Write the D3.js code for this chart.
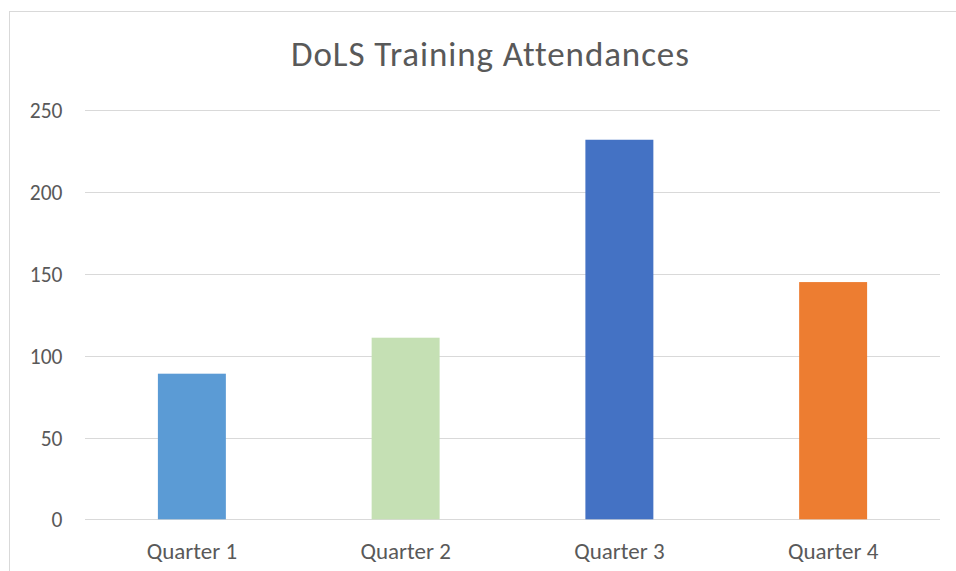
<!DOCTYPE html>
<html><head><meta charset="utf-8">
<script src="https://cdn.jsdelivr.net/npm/d3@7"></script>
<style>body{margin:0;background:#fff}svg{display:block}</style>
</head><body>
<script>
const categories = ["Quarter 1", "Quarter 2", "Quarter 3", "Quarter 4"];
const values = [89, 111, 232, 145];
const colors = ["#5B9BD5", "#C5E0B4", "#4472C4", "#ED7D31"];
const yTicks = [0, 50, 100, 150, 200, 250];
const title = "DoLS Training Attendances";

const W = 956, H = 571;
const font = "Carlito, Calibri, Lato, 'Open Sans', sans-serif";
const svg = d3.select("body").append("svg").attr("width", W).attr("height", H);
svg.append("rect").attr("width", W).attr("height", H).attr("fill", "#fff");
svg.append("rect").attr("x", 9.5).attr("y", 11.5).attr("width", W + 20).attr("height", H + 20)
  .attr("fill", "none").attr("stroke", "#D9D9D9").attr("stroke-width", 1);

const x = d3.scaleBand().domain(categories).range([85, 940]).paddingInner(0.682).paddingOuter(0.341);
const y = d3.scaleLinear().domain([0, 250]).range([519.3, 110.3]);

svg.append("g").selectAll("line").data(yTicks).join("line")
  .attr("x1", 85).attr("x2", 940)
  .attr("y1", d => Math.round(y(d)) + 0.5).attr("y2", d => Math.round(y(d)) + 0.5)
  .attr("stroke", "#D9D9D9").attr("stroke-width", 1);

svg.append("g").selectAll("rect").data(values).join("rect")
  .attr("x", (d, i) => x(categories[i]))
  .attr("width", x.bandwidth())
  .attr("y", d => y(d))
  .attr("height", d => y(0) - y(d))
  .attr("fill", (d, i) => colors[i]);

svg.append("g").selectAll("text").data(yTicks).join("text")
  .attr("x", 62.5).attr("y", d => y(d) + 8)
  .attr("text-anchor", "end").attr("font-family", font).attr("font-size", 21.5)
  .attr("fill", "#595959").text(d => d);

svg.append("g").selectAll("text").data(categories).join("text")
  .attr("x", d => x(d) + x.bandwidth() / 2).attr("y", 559)
  .attr("text-anchor", "middle").attr("font-family", font).attr("font-size", 23)
  .attr("fill", "#595959").text(d => d);

svg.append("text").attr("x", 291).attr("y", 65.5).attr("text-anchor", "start")
  .attr("font-family", font).attr("font-size", 35).attr("letter-spacing", 0.9)
  .attr("fill", "#595959").text(title);
</script>
</body></html>
